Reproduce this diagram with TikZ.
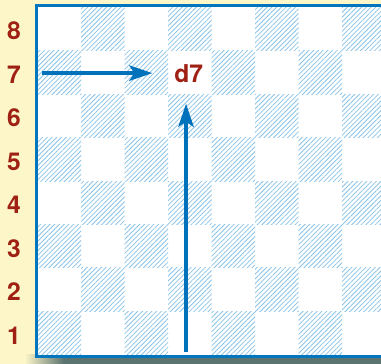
\documentclass[tikz,border=0pt]{standalone}
\usepackage{fontspec}
\setmainfont{TeX Gyre Heros}
\usetikzlibrary{arrows.meta,patterns.meta}
\definecolor{boardcream}{RGB}{252,246,200}
\definecolor{boardblue}{RGB}{0,118,190}
\definecolor{arrowblue}{RGB}{0,114,187}
\definecolor{hatchblue}{RGB}{140,195,232}
\definecolor{rankred}{RGB}{158,33,20}
\definecolor{shadowgray}{RGB}{92,116,112}
\begin{document}
\begin{tikzpicture}[x=0.87cm,y=0.87cm,font=\bfseries\fontsize{14}{16}\selectfont,
  dark/.style={pattern={Lines[angle=45,distance=1.9pt,line width=0.45pt]},pattern color=hatchblue},
  move/.style={-{Stealth[length=0.46cm,width=0.3cm,inset=0.1cm]},line width=2.6pt,arrowblue},
  rank/.style={text=rankred}]
\clip (-0.867,-0.207) rectangle (7.892,8.161);
\fill[boardcream] (-0.867,-0.207) rectangle (7.892,8.161);
\shade[left color=boardcream,right color=shadowgray] (-0.3,-0.3) rectangle (0.6,0);
\fill[shadowgray] (0.6,-0.3) rectangle (9,0);
\fill[white] (0,0) rectangle (8,8);
\foreach \r in {1,...,8}{
  \node[rank] (rank\r) at (-0.545,\r-0.55) {\r};
  \foreach \c in {1,...,8}{
    \pgfmathtruncatemacro\odd{mod(\r+\c,2)}
    \ifnum\odd=0 \path[dark] (\c-1,\r-1) rectangle (\c,\r); \fi
  }
}
\draw[line width=1.7pt,boardblue] (-0.03,-0.03) rectangle (8.03,8.03);
\node[rank,minimum width=0.87cm,minimum height=0.87cm,inner sep=0pt] (d7) at (3.47,6.46) {d7};
\coordinate (start7) at (0.1,6.48);
\coordinate (startd) at (3.41,0.07);
\draw[move,shorten >=0.28cm] (start7) -- (start7 -| d7.west);
\draw[move,shorten >=0.15cm] (startd) -- (startd |- d7.south);
\end{tikzpicture}
\end{document}
